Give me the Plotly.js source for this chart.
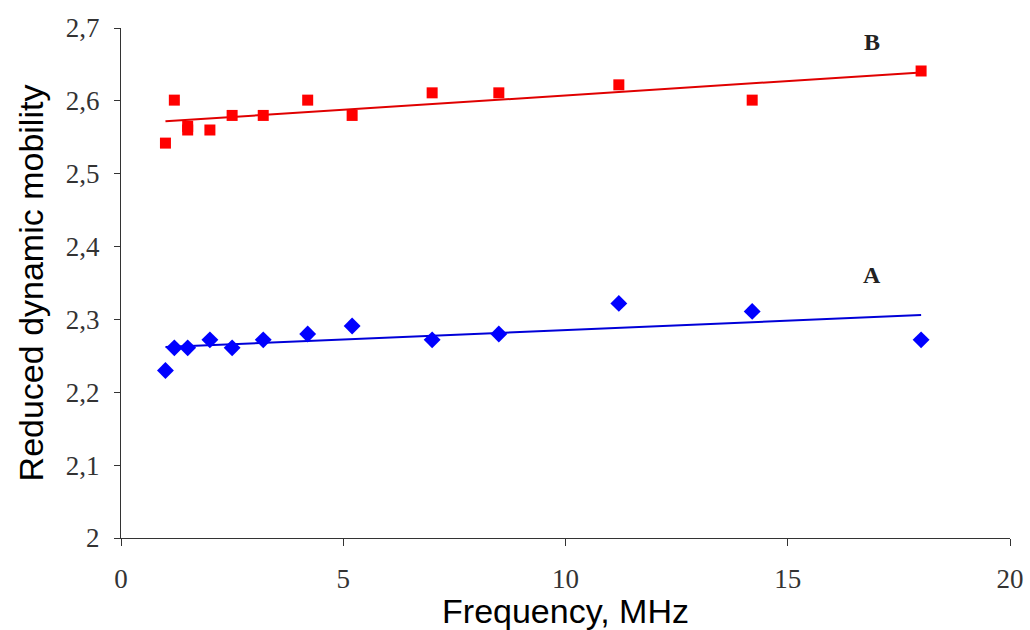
<!DOCTYPE html>
<html>
<head>
<meta charset="utf-8">
<script src="https://cdn.plot.ly/plotly-3.0.1.min.js"></script>
<style>
  html, body { margin: 0; padding: 0; background: #fff; }
  #chart { width: 1030px; height: 630px; }
</style>
</head>
<body>
<div id="chart"></div>
<script>
// Frequency (MHz) of each measurement
const freqB = [1, 1.2, 1.5, 1.5, 2, 2.5, 3.2, 4.2, 5.2, 7, 8.5, 11.2, 14.2, 18];
const mobilityB = [2.542, 2.601, 2.565, 2.56, 2.56, 2.58, 2.58, 2.601, 2.58, 2.611, 2.611, 2.622, 2.601, 2.641];

const freqA = [1, 1.2, 1.5, 2, 2.5, 3.2, 4.2, 5.2, 7, 8.5, 11.2, 14.2, 18];
const mobilityA = [2.23, 2.261, 2.261, 2.272, 2.261, 2.272, 2.28, 2.291, 2.272, 2.28, 2.322, 2.311, 2.272];

// Linear trend lines (end points)
const trendX = [1, 18];
const trendB = [2.572, 2.639];
const trendA = [2.262, 2.306];

// Curve labels
const curveLabels = ['A', 'B'];
const labelX = [16.9, 16.9];
const labelY = [2.361, 2.681];

const traces = [
  { x: trendX, y: trendB, mode: 'lines', line: { color: '#e00000', width: 2 }, hoverinfo: 'skip' },
  { x: trendX, y: trendA, mode: 'lines', line: { color: '#0000d8', width: 2 }, hoverinfo: 'skip' },
  { x: freqB, y: mobilityB, mode: 'markers',
    marker: { symbol: 'square', size: 11, color: '#ff0000' } },
  { x: freqA, y: mobilityA, mode: 'markers',
    marker: { symbol: 'diamond', size: 13, color: '#0000ff' } }
];

const SERIF = 'Liberation Serif';
const SANS = 'Liberation Sans';

const layout = {
  width: 1030, height: 630,
  margin: { l: 121, r: 20, t: 28, b: 92 },
  paper_bgcolor: '#fff', plot_bgcolor: '#fff',
  showlegend: false,
  separators: ', ',
  font: { family: SERIF, size: 27, color: '#333' },
  xaxis: {
    range: [0, 20], dtick: 5, tick0: 0,
    showgrid: false, zeroline: false,
    showline: true, linecolor: '#333', linewidth: 1,
    ticks: 'outside', ticklen: 7, tickcolor: '#333',
    ticklabelstandoff: 10,
    tickfont: { family: SERIF, size: 27, color: '#333' },
    title: { text: 'Frequency, MHz', font: { family: SANS, size: 34, color: '#000' }, standoff: 0 }
  },
  yaxis: {
    range: [2, 2.7], dtick: 0.1, tick0: 2,
    showgrid: false, zeroline: false,
    showline: true, linecolor: '#333', linewidth: 1,
    ticks: 'outside', ticklen: 6, tickcolor: '#333',
    ticklabelstandoff: 9,
    tickfont: { family: SERIF, size: 27, color: '#333' },
    title: { text: 'Reduced dynamic mobility', font: { family: SANS, size: 34, color: '#000' }, standoff: 11 }
  },
  annotations: curveLabels.map((t, i) => ({
    x: labelX[i], y: labelY[i], xref: 'x', yref: 'y',
    text: '<b>' + t + '</b>', showarrow: false,
    font: { family: SERIF, size: 24, color: '#222' }
  }))
};

Plotly.newPlot('chart', traces, layout, { staticPlot: true, displayModeBar: false });
</script>
</body>
</html>
